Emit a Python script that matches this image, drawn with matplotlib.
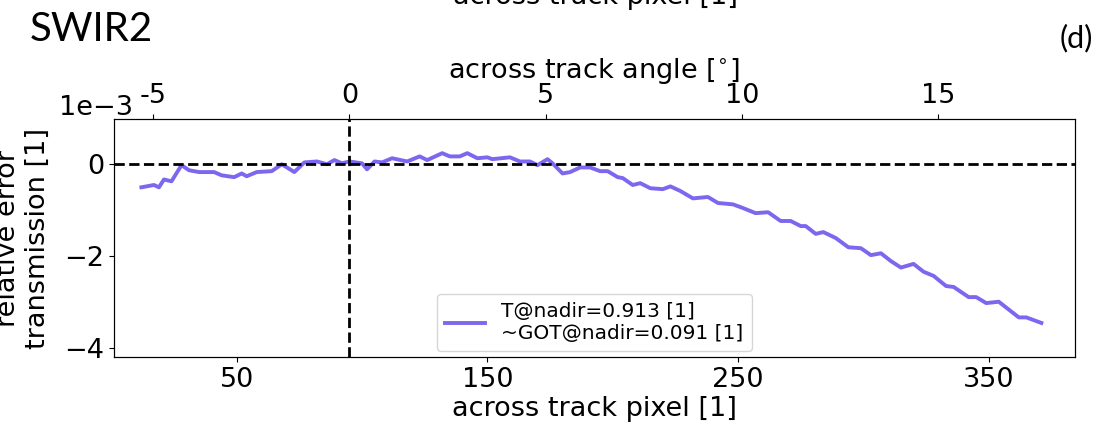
# -*- coding: utf-8 -*-
"""
SWIR2 relative transmission error across track
"""

import numpy as np
import matplotlib
matplotlib.use('Agg')
import matplotlib.pyplot as plt

# across track pixel and relative error of the transmission (x 1e-3)
pixel = [12, 17, 19, 21, 24, 28, 31, 35, 41, 44, 49, 52, 54, 58, 64, 68, 73, 77, 82, 86,
         89, 92, 95, 100, 102, 105, 108, 112, 118, 123, 126, 132, 135, 139, 142, 146, 150,
         152, 159, 163, 167, 170, 174, 176, 180, 183, 187, 191, 195, 198, 202, 204, 208,
         211, 215, 220, 223, 227, 232, 238, 242, 248, 252, 257, 262, 267, 271, 275, 277,
         281, 284, 289, 294, 299, 303, 307, 311, 315, 320, 324, 328, 333, 336, 342, 345,
         349, 354, 358, 362, 365, 371]
rel_err = [-0.51, -0.46, -0.51, -0.34, -0.38, -0.03, -0.14, -0.18, -0.18, -0.25, -0.29,
           -0.21, -0.27, -0.18, -0.16, -0.01, -0.18, 0.03, 0.05, -0.01, 0.08, 0.01, 0.05,
           0.01, -0.12, 0.05, 0.03, 0.12, 0.05, 0.16, 0.08, 0.23, 0.16, 0.16, 0.23, 0.12,
           0.14, 0.10, 0.14, 0.05, 0.05, -0.03, 0.10, 0.01, -0.21, -0.18, -0.08, -0.08,
           -0.16, -0.16, -0.29, -0.31, -0.46, -0.42, -0.53, -0.55, -0.49, -0.59, -0.75,
           -0.72, -0.85, -0.88, -0.96, -1.07, -1.05, -1.24, -1.24, -1.35, -1.35, -1.52,
           -1.48, -1.61, -1.81, -1.83, -1.98, -1.94, -2.11, -2.25, -2.17, -2.34, -2.43,
           -2.65, -2.67, -2.89, -2.89, -3.02, -2.99, -3.16, -3.33, -3.33, -3.45]
nadir_pixel = 95
T_nadir = 0.913
GOT_nadir = 0.091
angle_ticks = [-5, 0, 5, 10, 15]
pixel_ticks = [50, 150, 250, 350]

fs = 19.5
fig = plt.figure(figsize=(11.16, 4.36), dpi=100)
ax = fig.add_axes([0.102, 0.181, 0.861, 0.546])

ax.plot(pixel, np.array(rel_err)*1e-3, color='#7B68EE', linewidth=2.8,
        label='T@nadir=%.3f [1]\n~GOT@nadir=%.3f [1]' % (T_nadir, GOT_nadir))
ax.axhline(0, color='k', linestyle='--', linewidth=2)
ax.axvline(nadir_pixel, color='k', linestyle='--', linewidth=2)
ax.set_xlim(1, 384.3)
ax.set_ylim(-4.19e-3, 0.97e-3)
ax.set_yticks([-4e-3, -2e-3, 0])
ax.set_xticks(pixel_ticks)
ax.ticklabel_format(axis='y', style='sci', scilimits=(0, 0))
ax.tick_params(labelsize=fs)
ax.yaxis.get_offset_text().set_fontsize(fs)
ax.yaxis.get_offset_text().set_horizontalalignment('right')
ax.yaxis.get_offset_text().set_x(0.02)
ax.set_xlabel('across track pixel [1]', fontsize=fs, labelpad=2)
ax.set_ylabel('relative error\ntransmission [1]', fontsize=fs)
ax.yaxis.set_label_coords(-0.065, 0.5)
ax.legend(loc='lower center', fontsize=14.5, borderaxespad=0.3)

# top axis: across track angle, linear in pixel
ax2 = ax.twiny()
ax2.set_xlim(-6.0, 18.47)
ax2.set_xticks(angle_ticks)
ax2.set_xticklabels([str(a) for a in angle_ticks], fontsize=fs)
ax2.set_xlabel(r'across track angle [$^{\circ}$]', fontsize=fs)

fig.text(0.027, 0.906, 'SWIR2', fontsize=29, family='Lato', ha='left', va='baseline')
fig.text(0.979, 0.892, '(d)', fontsize=22, family='Lato', ha='right', va='baseline')
fig.text(0.534, 0.99, 'across track pixel [1]', fontsize=fs, ha='center', va='baseline')

plt.savefig('out.png', dpi=100)
